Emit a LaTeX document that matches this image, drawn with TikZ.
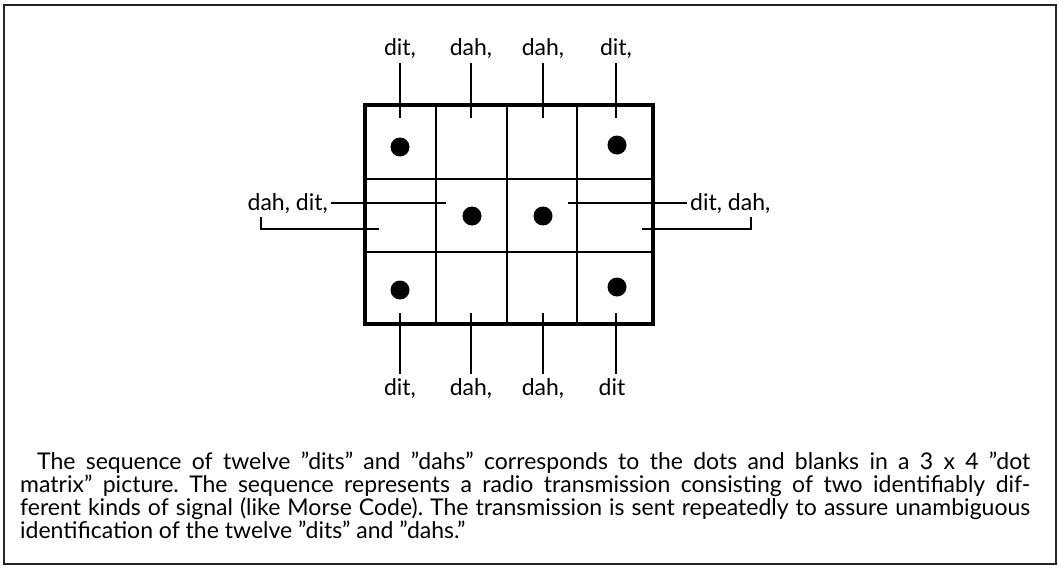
\documentclass[tikz,border=0pt]{standalone}
\usepackage{fontspec}
\setmainfont{Lato}
\begin{document}
\frenchspacing
\begin{tikzpicture}[x=1pt,y=-1pt,
  txt/.style={font=\fontsize{23}{27}\selectfont},
  lbl/.style={txt, inner xsep=0pt, inner ysep=4pt, anchor=base},
  capline/.style={txt, inner sep=0pt, anchor=base west},
  lead/.style={line width=2pt},
  thin grid/.style={line width=2pt},
  thick grid/.style={line width=3.2pt},
  dotmark/.style={circle, fill=black, draw=none, minimum size=19pt, inner sep=0pt},
  frame/.style={line width=2pt, draw=black!85}]
\useasboundingbox (0,0) rectangle (1059,567);
\draw[frame] (4,5) rectangle (1056,564);

% grid
\draw[thin grid] (436,105) -- (436,324) (507,105) -- (507,324) (577,105) -- (577,324)
                 (365,179) -- (653,179) (365,252) -- (653,252);
\draw[thick grid] (365,105) rectangle (653,324);

% dots
\node[dotmark] (d11) at (400,147) {};
\node[dotmark] (d14) at (617,145) {};
\node[dotmark] (d22) at (472,216) {};
\node[dotmark] (d23) at (543,216) {};
\node[dotmark] (d31) at (400,290) {};
\node[dotmark] (d34) at (617,287) {};

% top labels
\node[lbl] (t1) at (400,56) {dit,};
\node[lbl] (t2) at (471,56) {dah,};
\node[lbl] (t3) at (543,56) {dah,};
\node[lbl] (t4) at (616,56) {dit,};
\coordinate (t1e) at (400,118);
\coordinate (t2e) at (471,118);
\coordinate (t3e) at (543,118);
\coordinate (t4e) at (616,118);
\draw[lead] (t1e |- t1.south) -- (t1e);
\draw[lead] (t2e |- t2.south) -- (t2e);
\draw[lead] (t3e |- t3.south) -- (t3e);
\draw[lead] (t4e |- t4.south) -- (t4e);

% bottom labels
\node[lbl] (b1) at (400,395) {dit,};
\node[lbl] (b2) at (471,395) {dah,};
\node[lbl] (b3) at (543,395) {dah,};
\node[lbl] (b4) at (612,395) {dit};
\coordinate (b1e) at (400,313);
\coordinate (b2e) at (471,313);
\coordinate (b3e) at (543,313);
\coordinate (b4e) at (616,313);
\draw[lead] (b1e) -- (b1e |- b1.north);
\draw[lead] (b2e) -- (b2e |- b2.north);
\draw[lead] (b3e) -- (b3e |- b3.north);
\draw[lead] (b4e) -- (b4e |- b4.north);

% left labels
\node[lbl, anchor=base east, inner xsep=0pt] (L) at (328,210) {dah, dit,};
\coordinate (l1) at (446,203);
\draw[lead] (l1 -| L.east) ++(3,0) -- (l1);
\coordinate (l2a) at (261,217);
\coordinate (l2b) at (379,229);
\draw[lead] (l2a) |- (l2b);

% right labels
\node[lbl, anchor=base west, inner xsep=0pt] (R) at (690,210) {dit, dah,};
\coordinate (r1) at (568,203);
\draw[lead] (r1) -- ([xshift=-3pt]r1 -| R.west);
\coordinate (r2a) at (642,229);
\coordinate (r2b) at (751,217);
\draw[lead] (r2a) -| (r2b);

% caption
\node[capline] (c1) at (37,469) {\makebox[993pt][s]{The sequence of twelve ''dits'' and ''dahs'' corresponds to the dots and blanks in a 3 x 4 ''dot}};
\node[capline] (c2) at (20,492) {\makebox[1010pt][s]{matrix'' picture. The sequence represents a radio transmission consisting of two identifiably dif-}};
\node[capline] (c3) at (20,515) {\makebox[1010pt][s]{ferent kinds of signal (like Morse Code). The transmission is sent repeatedly to assure unambiguous}};
\node[capline] (c4) at (20,538) {identification of the twelve ''dits'' and ''dahs.''};
\end{tikzpicture}
\end{document}
